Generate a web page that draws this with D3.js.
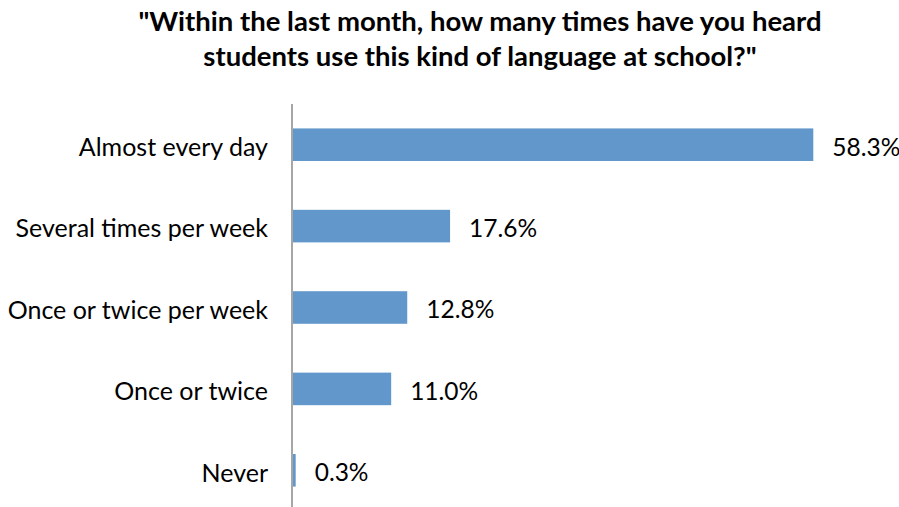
<!DOCTYPE html>
<html>
<head>
<meta charset="utf-8">
<script src="https://cdn.jsdelivr.net/npm/d3@7"></script>
<style>
  html, body { margin: 0; padding: 0; background: #fff; }
  svg { display: block; }
</style>
</head>
<body>
<script>
// Survey responses: how often students were heard using this language
const categories = ["Almost every day", "Several times per week", "Once or twice per week", "Once or twice", "Never"];
const values = [58.3, 17.6, 12.8, 11.0, 0.3];
const titleLines = ["\"Within the last month, how many times have you heard", "students use this kind of language at school?\""];

const W = 899, H = 507;
const font = "Lato, 'Open Sans', sans-serif";

const svg = d3.select("body").append("svg")
  .attr("width", W).attr("height", H);

const x = d3.scaleLinear().domain([0, 58.3]).range([293, 813.3]);
const y = d3.scaleBand().domain(categories).range([104, 511]).paddingInner(0.6).paddingOuter(0.3);

// Title
svg.append("g").selectAll("text").data(titleLines).join("text")
  .attr("x", 480).attr("y", (d, i) => 31 + i * 35)
  .attr("text-anchor", "middle")
  .attr("font-family", font).attr("font-weight", "bold")
  .attr("font-size", 27.5).attr("fill", "#000")
  .text(d => d);

// Bars
svg.append("g").selectAll("rect").data(values).join("rect")
  .attr("x", x(0))
  .attr("y", (d, i) => y(categories[i]))
  .attr("width", d => x(d) - x(0))
  .attr("height", y.bandwidth())
  .attr("fill", "#6197CA");

// Value labels
svg.append("g").selectAll("text").data(values).join("text")
  .attr("x", d => x(d) + 19)
  .attr("y", (d, i) => y(categories[i]) + y.bandwidth() / 2 + 2)
  .attr("dy", "0.36em")
  .attr("font-family", font).attr("font-size", 24.5).attr("fill", "#000")
  .text(d => d.toFixed(1) + "%");

// Category axis
const axis = svg.append("g")
  .attr("transform", `translate(${x(0) - 1},0)`)
  .call(d3.axisLeft(y).tickSize(0).tickPadding(24));
axis.select(".domain").attr("stroke", "#A6A6A6").attr("stroke-width", 2)
  .attr("d", `M0,104V${H}`);
axis.selectAll(".tick text")
  .attr("font-family", font).attr("font-size", 25).attr("fill", "#000")
  .attr("dy", "0.45em");
</script>
</body>
</html>
